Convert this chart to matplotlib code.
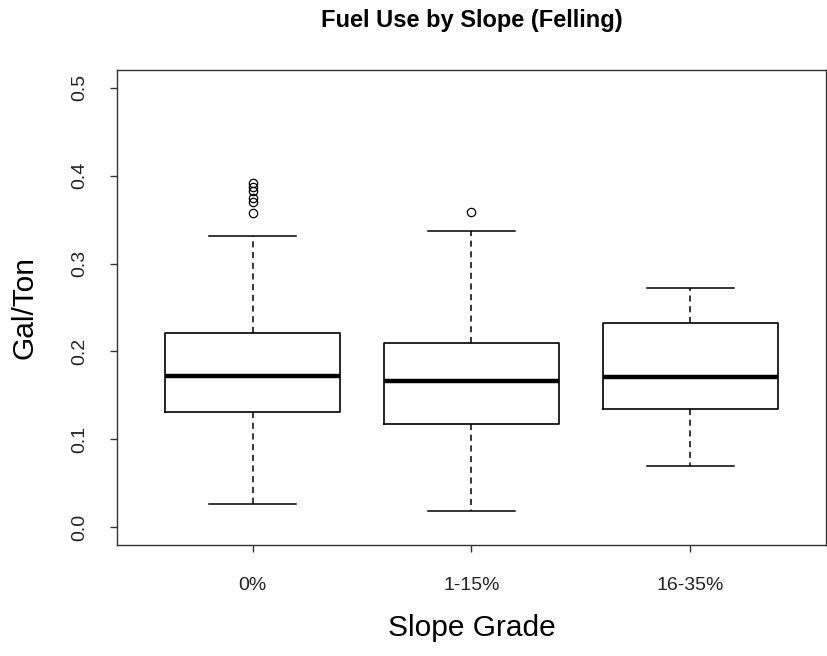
import matplotlib
matplotlib.use("Agg")
import matplotlib.pyplot as plt

plt.rcParams['font.family'] = ['Liberation Sans', 'DejaVu Sans']

# slope classes and box statistics (gal/ton)
categories = ["0%", "1-15%", "16-35%"]
medians = [0.172, 0.166, 0.171]
q1 = [0.131, 0.118, 0.135]
q3 = [0.221, 0.210, 0.232]
whisker_low = [0.027, 0.019, 0.070]
whisker_high = [0.331, 0.337, 0.272]
outliers = [
    [0.391, 0.387, 0.382, 0.375, 0.370, 0.358],
    [0.359],
    [],
]

stats = []
for i, name in enumerate(categories):
    stats.append({
        "label": name,
        "med": medians[i],
        "q1": q1[i],
        "q3": q3[i],
        "whislo": whisker_low[i],
        "whishi": whisker_high[i],
        "fliers": outliers[i],
    })

fig = plt.figure(figsize=(8.28, 6.56), dpi=100)
ax = fig.add_axes([117 / 828, 1 - 545 / 656, 709 / 828, 475 / 656])

ax.bxp(stats, positions=[1, 2, 3], widths=0.8, capwidths=0.4,
       boxprops=dict(color="black", linewidth=1.2),
       medianprops=dict(color="black", linewidth=3.2),
       whiskerprops=dict(color="black", linewidth=1.1, linestyle=(0, (4, 3))),
       capprops=dict(color="black", linewidth=1.1),
       flierprops=dict(marker="o", markerfacecolor="none", markeredgecolor="black",
                       markersize=6, markeredgewidth=0.9))

ax.set_xlim(0.38, 3.62)
ax.set_ylim(-0.02, 0.52)
ax.set_yticks([0.0, 0.1, 0.2, 0.3, 0.4, 0.5])
ax.set_yticklabels(["0.0", "0.1", "0.2", "0.3", "0.4", "0.5"], rotation=90, va="center")
ax.set_xticks([1, 2, 3])
ax.set_xticklabels(categories)
ax.tick_params(axis="both", labelsize=14, length=5, width=1, color="#333333",
               labelcolor="#222222")
ax.tick_params(axis="y", pad=16)
ax.tick_params(axis="x", pad=18)
for sp in ax.spines.values():
    sp.set_linewidth(1)
    sp.set_color("#333333")

ax.set_ylabel("Gal/Ton", fontsize=21.5, va="center")
ax.yaxis.set_label_coords((25 - 117) / 709, 0.5)
ax.set_xlabel("Slope Grade", fontsize=21.5, va="center")
ax.xaxis.set_label_coords(0.5, (545 - 628) / 475)
fig.text(471.5 / 828, 1 - 21 / 656, "Fuel Use by Slope (Felling)", fontsize=17,
         fontweight="bold", ha="center", va="center")

fig.savefig("out.png", dpi=100)
